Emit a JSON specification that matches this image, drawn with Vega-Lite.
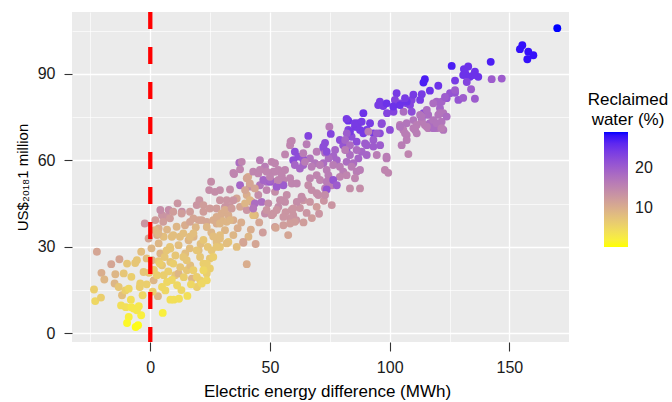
{
  "$schema": "https://vega.github.io/schema/vega-lite/v6.json",
  "width": 497,
  "height": 330,
  "autosize": {"type": "none"},
  "padding": {"left": 72, "top": 12, "right": 103, "bottom": 60},
  "background": "white",
  "title": {
    "text": ["Reclaimed", "water (%)"],
    "orient": "top",
    "anchor": "end",
    "frame": "group",
    "align": "center",
    "baseline": "top",
    "offset": 0,
    "dx": 59,
    "dy": 119,
    "font": "Liberation Sans",
    "fontSize": 17,
    "fontWeight": "normal",
    "color": "#000000",
    "lineHeight": 20
  },
  "config": {
    "view": {"fill": "#EBEBEB", "stroke": null},
    "font": "Liberation Sans",
    "axis": {
      "grid": true,
      "gridColor": "#FFFFFF",
      "domain": false,
      "tickColor": "#333333",
      "tickWidth": 1.1,
      "labelColor": "#1A1A1A",
      "labelFont": "Liberation Sans",
      "labelFontSize": 16,
      "labelFlush": false,
      "labelOverlap": false,
      "titleFont": "Liberation Sans",
      "titleFontWeight": "normal",
      "titleColor": "#000000"
    }
  },
  "layer": [
    {
      "data": {"values": [
        {"energy": -22.3, "cost": 28.3, "reclaimed": 11},
        {"energy": -23.5, "cost": 15.2, "reclaimed": 6},
        {"energy": -23, "cost": 11.2, "reclaimed": 5},
        {"energy": -20.6, "cost": 12.4, "reclaimed": 6},
        {"energy": -20.4, "cost": 21, "reclaimed": 10},
        {"energy": -19.2, "cost": 18.7, "reclaimed": 9},
        {"energy": -16.3, "cost": 24, "reclaimed": 11},
        {"energy": -14.6, "cost": 20.5, "reclaimed": 9},
        {"energy": -14.9, "cost": 17.3, "reclaimed": 9},
        {"energy": -12.9, "cost": 25.7, "reclaimed": 11},
        {"energy": -13.2, "cost": 16.1, "reclaimed": 7},
        {"energy": -11.1, "cost": 20.8, "reclaimed": 7},
        {"energy": -9.7, "cost": 24.2, "reclaimed": 7},
        {"energy": -11.8, "cost": 13.2, "reclaimed": 8},
        {"energy": -12.2, "cost": 9.7, "reclaimed": 4},
        {"energy": -10.4, "cost": 14.9, "reclaimed": 6},
        {"energy": -9, "cost": 15.5, "reclaimed": 5},
        {"energy": -10.2, "cost": 9.1, "reclaimed": 4},
        {"energy": -7.9, "cost": 19.6, "reclaimed": 6},
        {"energy": -8.1, "cost": 11.7, "reclaimed": 4},
        {"energy": -7.9, "cost": 9.1, "reclaimed": 3},
        {"energy": -6.3, "cost": 24.4, "reclaimed": 7},
        {"energy": -7, "cost": 8.6, "reclaimed": 3},
        {"energy": -4.8, "cost": 9.4, "reclaimed": 3},
        {"energy": -4.4, "cost": 16.1, "reclaimed": 6},
        {"energy": -3.8, "cost": 6.3, "reclaimed": 2},
        {"energy": -5.6, "cost": 8, "reclaimed": 3},
        {"energy": -9, "cost": 5.7, "reclaimed": 2},
        {"energy": -9.7, "cost": 3.6, "reclaimed": 1},
        {"energy": -6.1, "cost": 2.2, "reclaimed": 0.5},
        {"energy": -5.1, "cost": 2.8, "reclaimed": 0.5},
        {"energy": -3.8, "cost": 28.3, "reclaimed": 8},
        {"energy": -5.6, "cost": 25.4, "reclaimed": 7},
        {"energy": -2.8, "cost": 21.3, "reclaimed": 7},
        {"energy": -3.2, "cost": 13.2, "reclaimed": 5},
        {"energy": -4.2, "cost": 17.3, "reclaimed": 6},
        {"energy": -0.7, "cost": 32.9, "reclaimed": 11},
        {"energy": -2.3, "cost": 38.1, "reclaimed": 13},
        {"energy": 0.7, "cost": 25.4, "reclaimed": 9},
        {"energy": 1.4, "cost": 18.4, "reclaimed": 9},
        {"energy": 3.2, "cost": 12.9, "reclaimed": 9},
        {"energy": 5.2, "cost": 7.1, "reclaimed": 2},
        {"energy": 4.9, "cost": 16.1, "reclaimed": 5},
        {"energy": 6.3, "cost": 14.9, "reclaimed": 5},
        {"energy": 8.4, "cost": 11.7, "reclaimed": 4},
        {"energy": 9.8, "cost": 11.7, "reclaimed": 4},
        {"energy": 7, "cost": 17.8, "reclaimed": 5},
        {"energy": 2.8, "cost": 20.2, "reclaimed": 6},
        {"energy": 5.6, "cost": 20.2, "reclaimed": 6},
        {"energy": 10.4, "cost": 20.2, "reclaimed": 7},
        {"energy": 4.9, "cost": 23.6, "reclaimed": 7},
        {"energy": 8.4, "cost": 24.8, "reclaimed": 7},
        {"energy": 11.8, "cost": 20.8, "reclaimed": 9},
        {"energy": 11.2, "cost": 16.7, "reclaimed": 5},
        {"energy": 4.2, "cost": 27.7, "reclaimed": 9},
        {"energy": 8.4, "cost": 29.4, "reclaimed": 7},
        {"energy": 3.5, "cost": 31.2, "reclaimed": 9},
        {"energy": 5.6, "cost": 33.5, "reclaimed": 8},
        {"energy": 9, "cost": 33.5, "reclaimed": 8},
        {"energy": 2.8, "cost": 34.1, "reclaimed": 10},
        {"energy": 3.5, "cost": 36.4, "reclaimed": 10},
        {"energy": 2.1, "cost": 39.3, "reclaimed": 12},
        {"energy": 4.9, "cost": 41, "reclaimed": 13},
        {"energy": 7, "cost": 40.4, "reclaimed": 13},
        {"energy": 4.2, "cost": 42.8, "reclaimed": 14},
        {"energy": 7.7, "cost": 42.8, "reclaimed": 14},
        {"energy": 13.2, "cost": 42.2, "reclaimed": 14},
        {"energy": 11.8, "cost": 30.6, "reclaimed": 8},
        {"energy": 14.6, "cost": 27.7, "reclaimed": 8},
        {"energy": 15.3, "cost": 21.9, "reclaimed": 7},
        {"energy": 16.7, "cost": 23.6, "reclaimed": 8},
        {"energy": 17.4, "cost": 19, "reclaimed": 9},
        {"energy": 16, "cost": 32.3, "reclaimed": 9},
        {"energy": 18.1, "cost": 33.5, "reclaimed": 9},
        {"energy": 20.2, "cost": 28.8, "reclaimed": 8},
        {"energy": 19.5, "cost": 16.1, "reclaimed": 6},
        {"energy": 20.9, "cost": 18.4, "reclaimed": 6},
        {"energy": 20.2, "cost": 39.3, "reclaimed": 11},
        {"energy": 1.5, "cost": 22, "reclaimed": 6},
        {"energy": 3.5, "cost": 25, "reclaimed": 7},
        {"energy": 6, "cost": 26.5, "reclaimed": 7},
        {"energy": 10.5, "cost": 27, "reclaimed": 7},
        {"energy": 12.5, "cost": 23, "reclaimed": 7},
        {"energy": 14, "cost": 19.5, "reclaimed": 6},
        {"energy": 13, "cost": 15, "reclaimed": 5},
        {"energy": 15.5, "cost": 13, "reclaimed": 4},
        {"energy": 17, "cost": 17, "reclaimed": 5},
        {"energy": 9, "cost": 18.5, "reclaimed": 5},
        {"energy": 7.5, "cost": 21.5, "reclaimed": 6},
        {"energy": 12, "cost": 12, "reclaimed": 4},
        {"energy": 16.5, "cost": 29.5, "reclaimed": 8},
        {"energy": 21, "cost": 31, "reclaimed": 8},
        {"energy": 24, "cost": 30, "reclaimed": 7},
        {"energy": 25.5, "cost": 35, "reclaimed": 9},
        {"energy": 19, "cost": 36.8, "reclaimed": 9},
        {"energy": 14.5, "cost": 37.5, "reclaimed": 10},
        {"energy": 11, "cost": 37, "reclaimed": 9},
        {"energy": 7, "cost": 36, "reclaimed": 9},
        {"energy": 0.5, "cost": 29.5, "reclaimed": 9},
        {"energy": -1.5, "cost": 26, "reclaimed": 8},
        {"energy": -0.5, "cost": 21, "reclaimed": 7},
        {"energy": -1.5, "cost": 17, "reclaimed": 6},
        {"energy": 1, "cost": 14.5, "reclaimed": 6},
        {"energy": 36.5, "cost": 36.5, "reclaimed": 10},
        {"energy": 42, "cost": 36, "reclaimed": 10},
        {"energy": 45.5, "cost": 38.5, "reclaimed": 11},
        {"energy": 38, "cost": 38.5, "reclaimed": 10},
        {"energy": 41, "cost": 33.5, "reclaimed": 9},
        {"energy": 44, "cost": 31, "reclaimed": 11},
        {"energy": 47, "cost": 35, "reclaimed": 12},
        {"energy": 62.5, "cost": 43.5, "reclaimed": 13},
        {"energy": 64, "cost": 38.5, "reclaimed": 12},
        {"energy": 67.5, "cost": 40, "reclaimed": 12},
        {"energy": 70.5, "cost": 41.5, "reclaimed": 13},
        {"energy": 72.5, "cost": 46, "reclaimed": 13},
        {"energy": 56.5, "cost": 42, "reclaimed": 13},
        {"energy": 37.2, "cost": 59.2, "reclaimed": 18},
        {"energy": 45.8, "cost": 60.1, "reclaimed": 16},
        {"energy": 47.9, "cost": 57.8, "reclaimed": 16},
        {"energy": 35, "cost": 55.3, "reclaimed": 15},
        {"energy": 37.5, "cost": 56.9, "reclaimed": 15},
        {"energy": 40.9, "cost": 54.3, "reclaimed": 10},
        {"energy": 43, "cost": 56.1, "reclaimed": 15},
        {"energy": 45.1, "cost": 55.5, "reclaimed": 15},
        {"energy": 37.5, "cost": 51.4, "reclaimed": 19},
        {"energy": 45.8, "cost": 51.4, "reclaimed": 17},
        {"energy": 41.6, "cost": 50.9, "reclaimed": 14},
        {"energy": 48.6, "cost": 52.6, "reclaimed": 18},
        {"energy": 25.4, "cost": 52.6, "reclaimed": 14},
        {"energy": 24.6, "cost": 49.7, "reclaimed": 14},
        {"energy": 27, "cost": 49.1, "reclaimed": 14},
        {"energy": 29.1, "cost": 49.7, "reclaimed": 14},
        {"energy": 33.3, "cost": 49.9, "reclaimed": 14},
        {"energy": 36.1, "cost": 46.8, "reclaimed": 11},
        {"energy": 40.3, "cost": 48, "reclaimed": 10},
        {"energy": 42.4, "cost": 45.6, "reclaimed": 12},
        {"energy": 46.5, "cost": 45.6, "reclaimed": 18},
        {"energy": 45.1, "cost": 48, "reclaimed": 14},
        {"energy": 37.5, "cost": 43.9, "reclaimed": 11},
        {"energy": 40.3, "cost": 42.8, "reclaimed": 13},
        {"energy": 43.7, "cost": 41, "reclaimed": 9},
        {"energy": 47.9, "cost": 41.6, "reclaimed": 14},
        {"energy": 20.5, "cost": 46.2, "reclaimed": 13},
        {"energy": 19.4, "cost": 44.5, "reclaimed": 13},
        {"energy": 22.2, "cost": 44.5, "reclaimed": 12},
        {"energy": 22.2, "cost": 42.2, "reclaimed": 12},
        {"energy": 24.9, "cost": 43.3, "reclaimed": 12},
        {"energy": 27.7, "cost": 43.3, "reclaimed": 12},
        {"energy": 29.1, "cost": 46.2, "reclaimed": 13},
        {"energy": 31.2, "cost": 43.9, "reclaimed": 13},
        {"energy": 33.3, "cost": 43.9, "reclaimed": 13},
        {"energy": 11.4, "cost": 45.1, "reclaimed": 13},
        {"energy": 9.6, "cost": 42.2, "reclaimed": 12},
        {"energy": 13.1, "cost": 41.6, "reclaimed": 12},
        {"energy": 16.6, "cost": 42.2, "reclaimed": 12},
        {"energy": 5.4, "cost": 38.7, "reclaimed": 12},
        {"energy": 8.2, "cost": 39.9, "reclaimed": 12},
        {"energy": 16.6, "cost": 38.7, "reclaimed": 11},
        {"energy": 18, "cost": 39.9, "reclaimed": 11},
        {"energy": 21.5, "cost": 39.3, "reclaimed": 11},
        {"energy": 23.6, "cost": 38.7, "reclaimed": 11},
        {"energy": 26.3, "cost": 39.3, "reclaimed": 10},
        {"energy": 27.7, "cost": 38.1, "reclaimed": 10},
        {"energy": 29.8, "cost": 39.3, "reclaimed": 9},
        {"energy": 31.2, "cost": 35.8, "reclaimed": 9},
        {"energy": 31.9, "cost": 38.7, "reclaimed": 9},
        {"energy": 29.8, "cost": 41.6, "reclaimed": 10},
        {"energy": 32.6, "cost": 41, "reclaimed": 10},
        {"energy": 34.7, "cost": 39.3, "reclaimed": 10},
        {"energy": 32.6, "cost": 31.7, "reclaimed": 7},
        {"energy": 29.1, "cost": 30, "reclaimed": 7},
        {"energy": 25.6, "cost": 28.8, "reclaimed": 7},
        {"energy": 24.9, "cost": 26, "reclaimed": 7},
        {"energy": 27.7, "cost": 31.7, "reclaimed": 8},
        {"energy": 29.1, "cost": 34.1, "reclaimed": 8},
        {"energy": 38.9, "cost": 31.4, "reclaimed": 11},
        {"energy": 40.3, "cost": 24, "reclaimed": 10},
        {"energy": 19.4, "cost": 28.8, "reclaimed": 7},
        {"energy": 20.8, "cost": 26.5, "reclaimed": 7},
        {"energy": 16.6, "cost": 33.5, "reclaimed": 8},
        {"energy": 18, "cost": 34.7, "reclaimed": 8},
        {"energy": 12.4, "cost": 33.5, "reclaimed": 8},
        {"energy": 13.8, "cost": 34.7, "reclaimed": 8},
        {"energy": 9.6, "cost": 34.1, "reclaimed": 8},
        {"energy": 8.2, "cost": 30, "reclaimed": 7},
        {"energy": 6.8, "cost": 28.8, "reclaimed": 7},
        {"energy": 2, "cost": 35.8, "reclaimed": 9},
        {"energy": 3.4, "cost": 34.7, "reclaimed": 9},
        {"energy": 13.8, "cost": 26.5, "reclaimed": 7},
        {"energy": 15.2, "cost": 25.4, "reclaimed": 7},
        {"energy": 9.6, "cost": 24.2, "reclaimed": 6},
        {"energy": 4, "cost": 24.2, "reclaimed": 6},
        {"energy": 22.2, "cost": 24.2, "reclaimed": 6},
        {"energy": 24.9, "cost": 22.5, "reclaimed": 6},
        {"energy": 23.6, "cost": 20.8, "reclaimed": 6},
        {"energy": 18, "cost": 21.9, "reclaimed": 6},
        {"energy": 19.4, "cost": 19.6, "reclaimed": 6},
        {"energy": 27.7, "cost": 40.4, "reclaimed": 10},
        {"energy": 23.6, "cost": 36.9, "reclaimed": 9},
        {"energy": 26.3, "cost": 33.6, "reclaimed": 8},
        {"energy": 22.2, "cost": 32.4, "reclaimed": 7},
        {"energy": 27.7, "cost": 30, "reclaimed": 7},
        {"energy": 26.3, "cost": 26.5, "reclaimed": 6},
        {"energy": 23.6, "cost": 24.2, "reclaimed": 6},
        {"energy": 22.2, "cost": 21.9, "reclaimed": 5},
        {"energy": 23.6, "cost": 18.4, "reclaimed": 5},
        {"energy": 21.5, "cost": 17.3, "reclaimed": 5},
        {"energy": 29.1, "cost": 38.1, "reclaimed": 9},
        {"energy": 33.3, "cost": 39.3, "reclaimed": 9},
        {"energy": 31.2, "cost": 42.8, "reclaimed": 10},
        {"energy": 34, "cost": 43.3, "reclaimed": 12},
        {"energy": 31.9, "cost": 46.2, "reclaimed": 13},
        {"energy": 34.7, "cost": 46.2, "reclaimed": 13},
        {"energy": 38.8, "cost": 31.7, "reclaimed": 11},
        {"energy": 34.7, "cost": 34.1, "reclaimed": 9},
        {"energy": 36.1, "cost": 30, "reclaimed": 8},
        {"energy": 31.9, "cost": 31.2, "reclaimed": 8},
        {"energy": 29.1, "cost": 32.9, "reclaimed": 8},
        {"energy": 43, "cost": 41, "reclaimed": 8},
        {"energy": 89, "cost": 76.4, "reclaimed": 25},
        {"energy": 82.7, "cost": 73.8, "reclaimed": 25},
        {"energy": 86.9, "cost": 72.9, "reclaimed": 24},
        {"energy": 85.5, "cost": 71.7, "reclaimed": 24},
        {"energy": 87.6, "cost": 70.6, "reclaimed": 24},
        {"energy": 89, "cost": 69.4, "reclaimed": 24},
        {"energy": 74.8, "cost": 71.7, "reclaimed": 16},
        {"energy": 82.7, "cost": 70.6, "reclaimed": 23},
        {"energy": 75.4, "cost": 69.2, "reclaimed": 23},
        {"energy": 66, "cost": 68.5, "reclaimed": 23},
        {"energy": 84.1, "cost": 68.2, "reclaimed": 22},
        {"energy": 86.2, "cost": 66.5, "reclaimed": 22},
        {"energy": 73, "cost": 66.1, "reclaimed": 22},
        {"energy": 72.3, "cost": 64.2, "reclaimed": 22},
        {"energy": 65.3, "cost": 65.6, "reclaimed": 16},
        {"energy": 59.1, "cost": 66.8, "reclaimed": 15},
        {"energy": 58.4, "cost": 65.3, "reclaimed": 15},
        {"energy": 79.2, "cost": 67.1, "reclaimed": 22},
        {"energy": 80.6, "cost": 65.3, "reclaimed": 21},
        {"energy": 82, "cost": 63.6, "reclaimed": 21},
        {"energy": 89.7, "cost": 65.9, "reclaimed": 20},
        {"energy": 88.3, "cost": 63, "reclaimed": 19},
        {"energy": 90.4, "cost": 61.9, "reclaimed": 19},
        {"energy": 86.9, "cost": 60.7, "reclaimed": 19},
        {"energy": 83.4, "cost": 61.9, "reclaimed": 18},
        {"energy": 82, "cost": 59.5, "reclaimed": 18},
        {"energy": 84.8, "cost": 59, "reclaimed": 18},
        {"energy": 77.2, "cost": 63.6, "reclaimed": 19},
        {"energy": 76.5, "cost": 61.5, "reclaimed": 19},
        {"energy": 77.9, "cost": 60.1, "reclaimed": 19},
        {"energy": 73, "cost": 62.7, "reclaimed": 18},
        {"energy": 74.5, "cost": 60.7, "reclaimed": 18},
        {"energy": 72.3, "cost": 59, "reclaimed": 18},
        {"energy": 69.5, "cost": 63, "reclaimed": 16},
        {"energy": 66.7, "cost": 60.7, "reclaimed": 17},
        {"energy": 68.8, "cost": 59, "reclaimed": 17},
        {"energy": 60.4, "cost": 63, "reclaimed": 22},
        {"energy": 61.8, "cost": 61.3, "reclaimed": 22},
        {"energy": 59.7, "cost": 60.1, "reclaimed": 22},
        {"energy": 63.9, "cost": 60.4, "reclaimed": 21},
        {"energy": 56.3, "cost": 62.1, "reclaimed": 15},
        {"energy": 63.9, "cost": 58.4, "reclaimed": 19},
        {"energy": 60.4, "cost": 58.4, "reclaimed": 19},
        {"energy": 62.5, "cost": 57.2, "reclaimed": 19},
        {"energy": 67.4, "cost": 57.8, "reclaimed": 16},
        {"energy": 70.9, "cost": 58.4, "reclaimed": 16},
        {"energy": 73.7, "cost": 56.7, "reclaimed": 16},
        {"energy": 76.4, "cost": 58.4, "reclaimed": 16},
        {"energy": 79.2, "cost": 57.8, "reclaimed": 16},
        {"energy": 80.6, "cost": 56.1, "reclaimed": 16},
        {"energy": 84.1, "cost": 57.8, "reclaimed": 16},
        {"energy": 86.2, "cost": 56.1, "reclaimed": 16},
        {"energy": 87.6, "cost": 56.7, "reclaimed": 16},
        {"energy": 79.2, "cost": 54.3, "reclaimed": 15},
        {"energy": 82, "cost": 54.9, "reclaimed": 15},
        {"energy": 85.5, "cost": 53.8, "reclaimed": 15},
        {"energy": 69.5, "cost": 54.9, "reclaimed": 15},
        {"energy": 66.7, "cost": 53.8, "reclaimed": 15},
        {"energy": 70.9, "cost": 53.2, "reclaimed": 15},
        {"energy": 74.4, "cost": 54.9, "reclaimed": 16},
        {"energy": 73.7, "cost": 52.6, "reclaimed": 16},
        {"energy": 75.8, "cost": 51.4, "reclaimed": 16},
        {"energy": 73, "cost": 50.3, "reclaimed": 16},
        {"energy": 76.4, "cost": 53.2, "reclaimed": 21},
        {"energy": 77.9, "cost": 51.4, "reclaimed": 20},
        {"energy": 66, "cost": 51.4, "reclaimed": 14},
        {"energy": 67.4, "cost": 49.7, "reclaimed": 14},
        {"energy": 69.5, "cost": 48.6, "reclaimed": 14},
        {"energy": 73.7, "cost": 49.9, "reclaimed": 21},
        {"energy": 83.4, "cost": 50.3, "reclaimed": 14},
        {"energy": 87.6, "cost": 50.3, "reclaimed": 14},
        {"energy": 70.2, "cost": 48, "reclaimed": 14},
        {"energy": 73, "cost": 48, "reclaimed": 14},
        {"energy": 75.8, "cost": 44.5, "reclaimed": 13},
        {"energy": 69.5, "cost": 43.9, "reclaimed": 12},
        {"energy": 63.9, "cost": 46.2, "reclaimed": 13},
        {"energy": 66.7, "cost": 45.6, "reclaimed": 13},
        {"energy": 59.1, "cost": 42.8, "reclaimed": 13},
        {"energy": 59.7, "cost": 41, "reclaimed": 13},
        {"energy": 58.4, "cost": 39.9, "reclaimed": 13},
        {"energy": 63.2, "cost": 46.8, "reclaimed": 14},
        {"energy": 61.2, "cost": 45.6, "reclaimed": 14},
        {"energy": 52.1, "cost": 49.1, "reclaimed": 14},
        {"energy": 54.9, "cost": 46.2, "reclaimed": 14},
        {"energy": 56.3, "cost": 45.6, "reclaimed": 14},
        {"energy": 53.5, "cost": 43.9, "reclaimed": 14},
        {"energy": 51.4, "cost": 52.6, "reclaimed": 15},
        {"energy": 52.8, "cost": 50.9, "reclaimed": 15},
        {"energy": 48.6, "cost": 49.7, "reclaimed": 15},
        {"energy": 50, "cost": 52.6, "reclaimed": 20},
        {"energy": 51.4, "cost": 56.1, "reclaimed": 15},
        {"energy": 53.5, "cost": 56.7, "reclaimed": 15},
        {"energy": 50.7, "cost": 59.5, "reclaimed": 15},
        {"energy": 52.1, "cost": 59, "reclaimed": 15},
        {"energy": 45.8, "cost": 56.7, "reclaimed": 15},
        {"energy": 56.3, "cost": 56.7, "reclaimed": 15},
        {"energy": 58.4, "cost": 53.8, "reclaimed": 15},
        {"energy": 55.6, "cost": 53.2, "reclaimed": 15},
        {"energy": 59.1, "cost": 52, "reclaimed": 15},
        {"energy": 61.2, "cost": 52, "reclaimed": 15},
        {"energy": 49.3, "cost": 45.1, "reclaimed": 14},
        {"energy": 38.2, "cost": 59.5, "reclaimed": 15},
        {"energy": 40.3, "cost": 53.8, "reclaimed": 11},
        {"energy": 41.6, "cost": 52, "reclaimed": 11},
        {"energy": 39.6, "cost": 49.7, "reclaimed": 11},
        {"energy": 43.7, "cost": 50.3, "reclaimed": 11},
        {"energy": 41.6, "cost": 46.2, "reclaimed": 9},
        {"energy": 39.6, "cost": 45.1, "reclaimed": 9},
        {"energy": 51.4, "cost": 41.6, "reclaimed": 13},
        {"energy": 55.6, "cost": 40.4, "reclaimed": 13},
        {"energy": 59.7, "cost": 43.3, "reclaimed": 13},
        {"energy": 61, "cost": 39.3, "reclaimed": 13},
        {"energy": 52.1, "cost": 36.9, "reclaimed": 12},
        {"energy": 55.6, "cost": 37.5, "reclaimed": 12},
        {"energy": 57.6, "cost": 34.1, "reclaimed": 11},
        {"energy": 52.4, "cost": 36.6, "reclaimed": 11},
        {"energy": 60.4, "cost": 38.7, "reclaimed": 12},
        {"energy": 58.4, "cost": 38.1, "reclaimed": 12},
        {"energy": 65.3, "cost": 41.8, "reclaimed": 13},
        {"energy": 98, "cost": 56.7, "reclaimed": 15},
        {"energy": 99.4, "cost": 55.7, "reclaimed": 15},
        {"energy": 63.2, "cost": 47.4, "reclaimed": 14},
        {"energy": 57, "cost": 48, "reclaimed": 14},
        {"energy": 54.2, "cost": 46.2, "reclaimed": 14},
        {"energy": 50.7, "cost": 41, "reclaimed": 13},
        {"energy": 48.6, "cost": 42.8, "reclaimed": 13},
        {"energy": 52.8, "cost": 42.8, "reclaimed": 13},
        {"energy": 52.8, "cost": 50.9, "reclaimed": 20},
        {"energy": 55.6, "cost": 51.4, "reclaimed": 20},
        {"energy": 47.2, "cost": 53.2, "reclaimed": 19},
        {"energy": 50, "cost": 53.2, "reclaimed": 19},
        {"energy": 43.7, "cost": 45.1, "reclaimed": 18},
        {"energy": 43, "cost": 43.3, "reclaimed": 17},
        {"energy": 34.7, "cost": 55.7, "reclaimed": 15},
        {"energy": 52.1, "cost": 56.1, "reclaimed": 15},
        {"energy": 48.6, "cost": 56.1, "reclaimed": 15},
        {"energy": 50, "cost": 54.3, "reclaimed": 15},
        {"energy": 54.9, "cost": 54.9, "reclaimed": 15},
        {"energy": 53.5, "cost": 53.2, "reclaimed": 15},
        {"energy": 58.6, "cost": 66.5, "reclaimed": 15},
        {"energy": 63.9, "cost": 62.5, "reclaimed": 16},
        {"energy": 64.6, "cost": 59.5, "reclaimed": 16},
        {"energy": 72.3, "cost": 64.8, "reclaimed": 22},
        {"energy": 73.7, "cost": 63, "reclaimed": 22},
        {"energy": 82, "cost": 74.4, "reclaimed": 24},
        {"energy": 86.2, "cost": 71.7, "reclaimed": 24},
        {"energy": 83.4, "cost": 70, "reclaimed": 24},
        {"energy": 91.8, "cost": 72.9, "reclaimed": 24},
        {"energy": 90.4, "cost": 70.6, "reclaimed": 24},
        {"energy": 93.2, "cost": 69.4, "reclaimed": 24},
        {"energy": 96.7, "cost": 72.9, "reclaimed": 22},
        {"energy": 95.9, "cost": 69.4, "reclaimed": 22},
        {"energy": 125.9, "cost": 92.8, "reclaimed": 27},
        {"energy": 131, "cost": 91.7, "reclaimed": 25},
        {"energy": 131.9, "cost": 89.7, "reclaimed": 25},
        {"energy": 127.3, "cost": 87.7, "reclaimed": 24},
        {"energy": 114.7, "cost": 88.2, "reclaimed": 27},
        {"energy": 114.1, "cost": 87, "reclaimed": 27},
        {"energy": 120.3, "cost": 85.9, "reclaimed": 25},
        {"energy": 116.8, "cost": 84.2, "reclaimed": 25},
        {"energy": 113.4, "cost": 83, "reclaimed": 24},
        {"energy": 125.2, "cost": 83.3, "reclaimed": 21},
        {"energy": 127.3, "cost": 83.5, "reclaimed": 21},
        {"energy": 123.8, "cost": 81.6, "reclaimed": 21},
        {"energy": 128.7, "cost": 81, "reclaimed": 21},
        {"energy": 119.6, "cost": 80.4, "reclaimed": 19},
        {"energy": 121.7, "cost": 80.4, "reclaimed": 19},
        {"energy": 121, "cost": 78.1, "reclaimed": 19},
        {"energy": 122.4, "cost": 76.4, "reclaimed": 17},
        {"energy": 120.3, "cost": 75.8, "reclaimed": 17},
        {"energy": 121.7, "cost": 73.4, "reclaimed": 17},
        {"energy": 119.6, "cost": 71.2, "reclaimed": 17},
        {"energy": 122.4, "cost": 70.6, "reclaimed": 17},
        {"energy": 102.9, "cost": 83.3, "reclaimed": 24},
        {"energy": 102.2, "cost": 81, "reclaimed": 23},
        {"energy": 104.3, "cost": 79.8, "reclaimed": 23},
        {"energy": 107.1, "cost": 79.8, "reclaimed": 23},
        {"energy": 109.2, "cost": 81, "reclaimed": 23},
        {"energy": 108.5, "cost": 79.2, "reclaimed": 23},
        {"energy": 95.9, "cost": 80.4, "reclaimed": 24},
        {"energy": 97.3, "cost": 78.9, "reclaimed": 24},
        {"energy": 95.2, "cost": 79.2, "reclaimed": 24},
        {"energy": 98.9, "cost": 76.4, "reclaimed": 23},
        {"energy": 101.6, "cost": 76.9, "reclaimed": 23},
        {"energy": 105.8, "cost": 76.9, "reclaimed": 18},
        {"energy": 109.2, "cost": 76.9, "reclaimed": 22},
        {"energy": 114.1, "cost": 76.4, "reclaimed": 22},
        {"energy": 116.1, "cost": 75.8, "reclaimed": 18},
        {"energy": 113.4, "cost": 74.5, "reclaimed": 22},
        {"energy": 85.5, "cost": 72.9, "reclaimed": 24},
        {"energy": 88.3, "cost": 73.4, "reclaimed": 24},
        {"energy": 91.1, "cost": 70, "reclaimed": 16},
        {"energy": 96.6, "cost": 72.6, "reclaimed": 22},
        {"energy": 100.1, "cost": 70.6, "reclaimed": 22},
        {"energy": 94.6, "cost": 69.4, "reclaimed": 20},
        {"energy": 93.2, "cost": 67.1, "reclaimed": 20},
        {"energy": 96, "cost": 65.3, "reclaimed": 20},
        {"energy": 93.2, "cost": 64.8, "reclaimed": 20},
        {"energy": 104.3, "cost": 72.3, "reclaimed": 16},
        {"energy": 105.7, "cost": 70.6, "reclaimed": 16},
        {"energy": 107.1, "cost": 68.8, "reclaimed": 16},
        {"energy": 113.4, "cost": 73.4, "reclaimed": 16},
        {"energy": 114.7, "cost": 72.3, "reclaimed": 16},
        {"energy": 116.1, "cost": 71.2, "reclaimed": 16},
        {"energy": 110.6, "cost": 70.6, "reclaimed": 16},
        {"energy": 111.3, "cost": 69.4, "reclaimed": 16},
        {"energy": 116.8, "cost": 72.9, "reclaimed": 18},
        {"energy": 118.2, "cost": 71.2, "reclaimed": 18},
        {"energy": 107.1, "cost": 67.1, "reclaimed": 16},
        {"energy": 105, "cost": 65.3, "reclaimed": 16},
        {"energy": 107.8, "cost": 62.2, "reclaimed": 15},
        {"energy": 82.1, "cost": 69.4, "reclaimed": 20},
        {"energy": 81.4, "cost": 67.1, "reclaimed": 19},
        {"energy": 83.4, "cost": 65.3, "reclaimed": 18},
        {"energy": 81.4, "cost": 63.6, "reclaimed": 16},
        {"energy": 86.2, "cost": 63.6, "reclaimed": 18},
        {"energy": 90.4, "cost": 65.3, "reclaimed": 20},
        {"energy": 94.6, "cost": 61.9, "reclaimed": 16},
        {"energy": 98.7, "cost": 60.7, "reclaimed": 16},
        {"energy": 170, "cost": 105.9, "reclaimed": 28.9},
        {"energy": 155.4, "cost": 100, "reclaimed": 28},
        {"energy": 154.4, "cost": 98.6, "reclaimed": 28},
        {"energy": 157.9, "cost": 97.7, "reclaimed": 28},
        {"energy": 160, "cost": 96.5, "reclaimed": 28},
        {"energy": 157.5, "cost": 95.1, "reclaimed": 28},
        {"energy": 142.2, "cost": 94.2, "reclaimed": 27},
        {"energy": 132.8, "cost": 92.6, "reclaimed": 25},
        {"energy": 131.4, "cost": 90.8, "reclaimed": 25},
        {"energy": 135.6, "cost": 90.8, "reclaimed": 25},
        {"energy": 130.7, "cost": 89.6, "reclaimed": 25},
        {"energy": 133.5, "cost": 89, "reclaimed": 25},
        {"energy": 137, "cost": 89, "reclaimed": 25},
        {"energy": 135, "cost": 89.6, "reclaimed": 25},
        {"energy": 132.2, "cost": 87.2, "reclaimed": 23},
        {"energy": 142.6, "cost": 88.2, "reclaimed": 20},
        {"energy": 146.8, "cost": 88.4, "reclaimed": 20},
        {"energy": 134, "cost": 84.7, "reclaimed": 20},
        {"energy": 135.6, "cost": 81.4, "reclaimed": 20},
        {"energy": 127.3, "cost": 84.4, "reclaimed": 20},
        {"energy": 123.1, "cost": 82, "reclaimed": 20},
        {"energy": 130.7, "cost": 81.7, "reclaimed": 20},
        {"energy": 104.3, "cost": 71.7, "reclaimed": 17},
        {"energy": 107.1, "cost": 72.9, "reclaimed": 17},
        {"energy": 109.9, "cost": 74, "reclaimed": 17},
        {"energy": 112.7, "cost": 75.8, "reclaimed": 17},
        {"energy": 118.2, "cost": 74, "reclaimed": 17},
        {"energy": 121, "cost": 76.4, "reclaimed": 17},
        {"energy": 119.6, "cost": 72.9, "reclaimed": 17},
        {"energy": 98.7, "cost": 79.8, "reclaimed": 25},
        {"energy": 101.5, "cost": 78.7, "reclaimed": 25},
        {"energy": 104.3, "cost": 79.2, "reclaimed": 25},
        {"energy": 107.1, "cost": 80.4, "reclaimed": 25},
        {"energy": 115.5, "cost": 77.5, "reclaimed": 18},
        {"energy": 118.2, "cost": 79.8, "reclaimed": 18},
        {"energy": 123.8, "cost": 75.2, "reclaimed": 18},
        {"energy": 106.4, "cost": 81.6, "reclaimed": 24},
        {"energy": 109.9, "cost": 82.8, "reclaimed": 24},
        {"energy": 112.7, "cost": 81, "reclaimed": 24},
        {"energy": 115.5, "cost": 71.7, "reclaimed": 16},
        {"energy": 113.4, "cost": 75.2, "reclaimed": 17},
        {"energy": 111.3, "cost": 72.3, "reclaimed": 16},
        {"energy": 109.9, "cost": 71.2, "reclaimed": 16},
        {"energy": 106.4, "cost": 69.4, "reclaimed": 16},
        {"energy": 98.7, "cost": 61.3, "reclaimed": 16},
        {"energy": 121.7, "cost": 71.2, "reclaimed": 16}
      ]},
      "mark": {"type": "circle", "size": 62, "opacity": 1},
      "encoding": {
        "x": {
          "field": "energy",
          "type": "quantitative",
          "scale": {"domain": [-32.7, 174.9], "nice": false, "zero": false},
          "axis": {
            "title": "Electric energy difference (MWh)",
            "titleFontSize": 17,
            "titlePadding": 8,
            "titleX": 255,
            "values": [-25, 0, 25, 50, 75, 100, 125, 150],
            "labelExpr": "datum.value % 50 === 0 ? datum.label : ''",
            "gridWidth": {"condition": {"test": "datum.value % 50 === 0", "value": 1.3}, "value": 0.65},
            "tickOpacity": {"condition": {"test": "datum.value % 50 === 0", "value": 1}, "value": 0},
            "tickSize": 9,
            "labelPadding": 8
          }
        },
        "y": {
          "field": "cost",
          "type": "quantitative",
          "scale": {"domain": [-3, 111.5], "nice": false, "zero": false},
          "axis": {
            "title": "US$₂₀₁₈1 million",
            "titleFontSize": 15,
            "titlePadding": 7,
            "values": [0, 15, 30, 45, 60, 75, 90, 105],
            "labelExpr": "datum.value % 30 === 0 ? datum.label : ''",
            "gridWidth": {"condition": {"test": "datum.value % 30 === 0", "value": 1.3}, "value": 0.65},
            "tickOpacity": {"condition": {"test": "datum.value % 30 === 0", "value": 1}, "value": 0},
            "tickSize": 8,
            "labelPadding": 9
          }
        },
        "color": {
          "field": "reclaimed",
          "type": "quantitative",
          "scale": {"domain": [0.15, 28.9], "range": ["#FFFF00", "#0000FF"], "interpolate": "lab"},
          "legend": {
            "title": null,
            "orient": "none",
            "legendX": 532,
            "legendY": 120,
            "padding": 0,
            "values": [10, 20],
            "gradientLength": 115,
            "gradientThickness": 24,
            "gradientStrokeWidth": 0,
            "labelFont": "Liberation Sans",
            "labelFontSize": 16,
            "labelColor": "#1A1A1A",
            "labelOffset": 7
          }
        }
      }
    },
    {
      "data": {"values": [{"energy": 0}]},
      "mark": {"type": "rule", "color": "#FF0000", "strokeWidth": 4.3, "strokeDash": [17, 18]},
      "encoding": {
        "x": {"field": "energy", "type": "quantitative"}
      }
    }
  ]
}
